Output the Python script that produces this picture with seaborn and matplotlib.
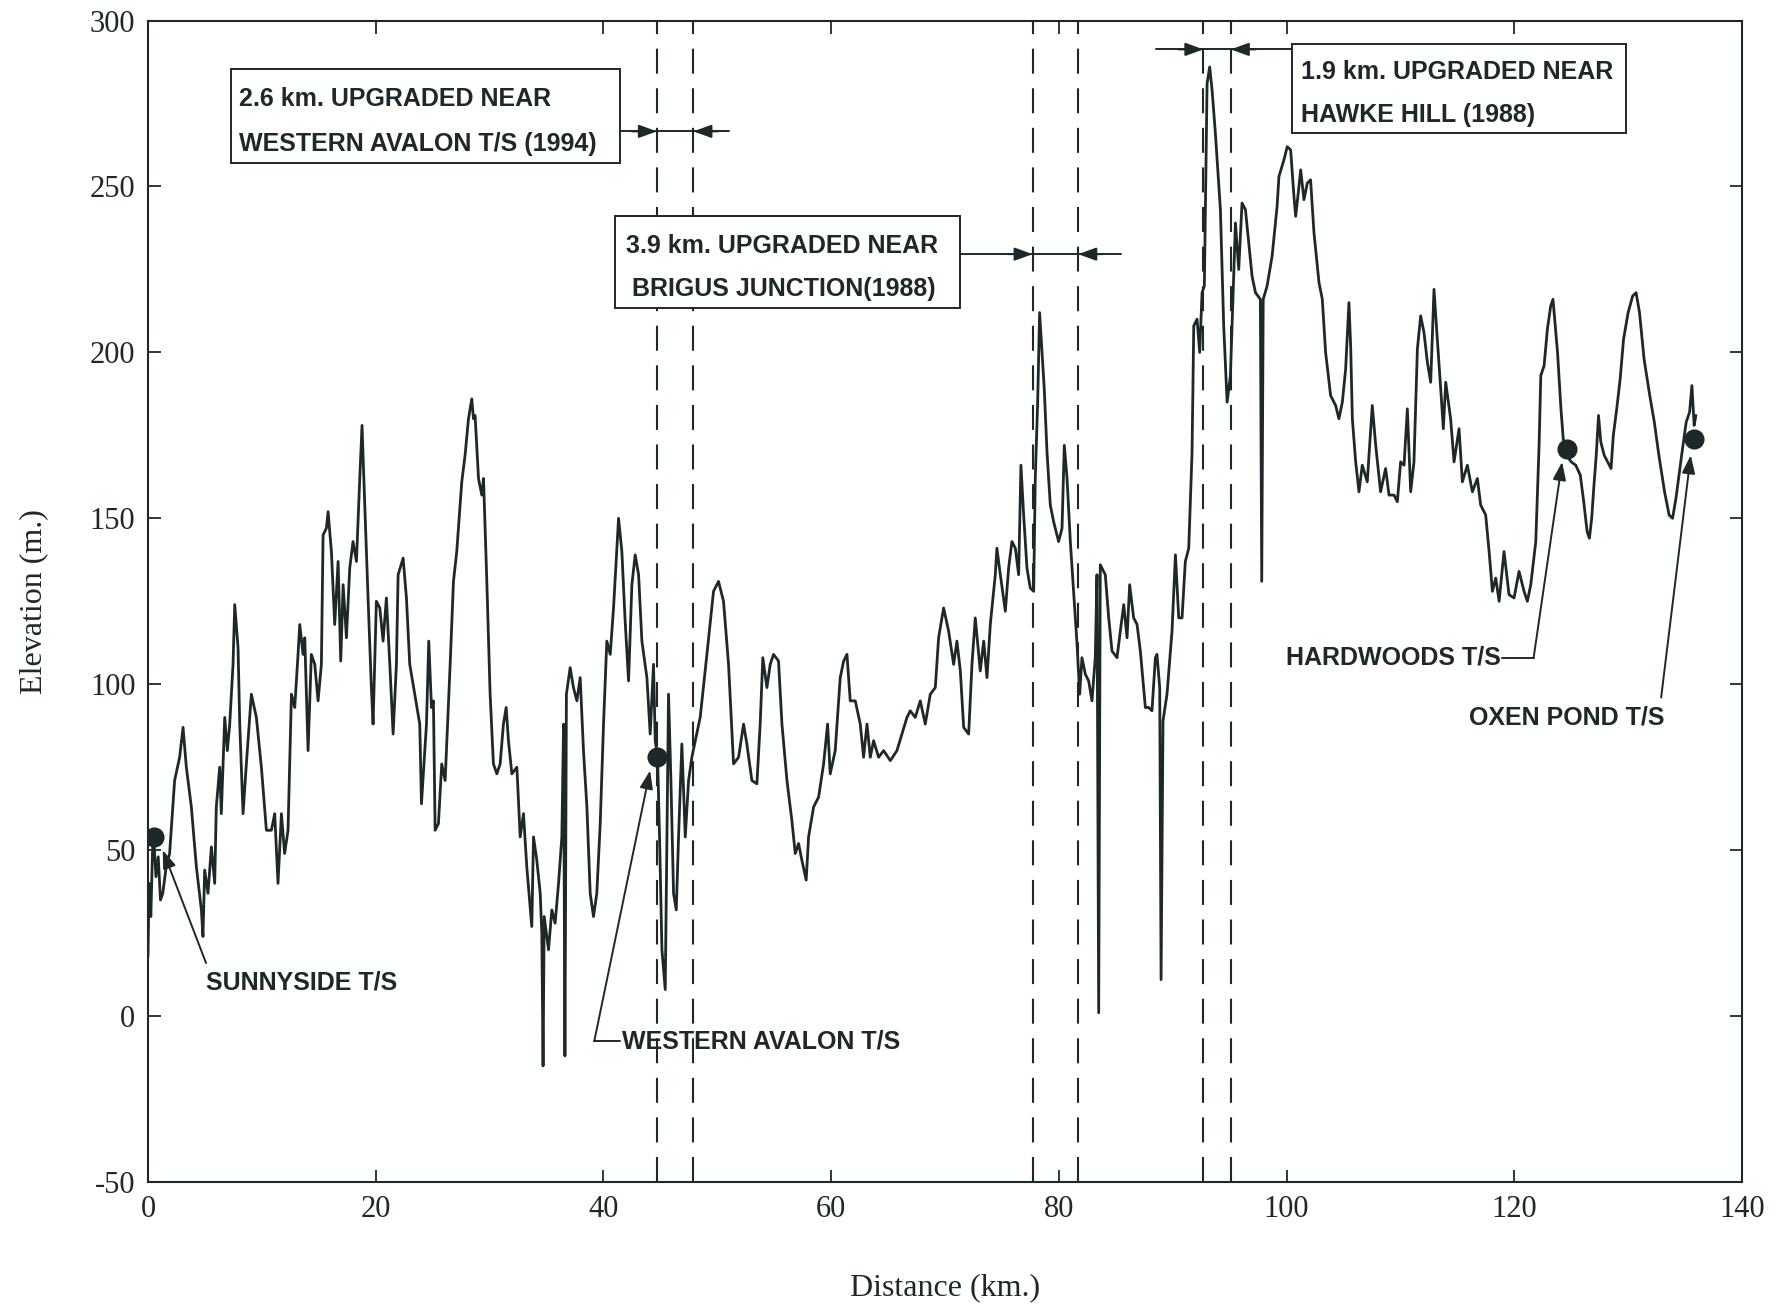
import matplotlib
matplotlib.use('Agg')
import matplotlib.pyplot as plt
import seaborn as sns
import pandas as pd
from matplotlib.patches import Rectangle

# === Elevation profile ===
dist_km = [
    0.0, 0.1, 0.25, 0.4, 0.5, 0.7, 0.9, 1.1, 1.3, 1.6, 1.9, 2.34, 2.78, 3.08, 3.37, 3.81,
    4.25, 4.69, 4.83, 4.98, 5.27, 5.57, 5.86, 6.0, 6.3, 6.44, 6.74, 6.97, 7.18, 7.47, 7.62,
    7.91, 8.06, 8.35, 8.64, 9.08, 9.52, 9.96, 10.4, 10.84, 11.13, 11.42, 11.72, 12.0, 12.3,
    12.6, 12.89, 13.18, 13.33, 13.62, 13.77, 14.06, 14.35, 14.65, 14.94, 15.23, 15.38, 15.67,
    15.82, 16.11, 16.4, 16.7, 16.93, 17.14, 17.43, 17.72, 18.01, 18.31, 18.6, 18.8, 19.04,
    19.33, 19.62, 19.77, 20.06, 20.36, 20.65, 20.94, 21.24, 21.53, 21.82, 21.97, 22.41, 22.7,
    22.99, 23.43, 23.87, 24.02, 24.46, 24.66, 24.9, 25.07,
    25.22, 25.51, 25.8, 26.1, 26.54, 26.83, 27.12, 27.56, 27.85, 28.15, 28.44, 28.59, 28.73,
    29.03, 29.32, 29.47, 29.76, 30.05, 30.34, 30.64, 30.93, 31.22, 31.46, 31.66, 31.96, 32.4,
    32.69, 32.98, 33.27, 33.71, 33.86, 34.15, 34.45, 34.59, 34.7, 34.8, 35.18, 35.47, 35.76,
    36.06, 36.35, 36.5, 36.62, 36.75, 37.08, 37.37, 37.67, 37.96, 38.25, 38.55, 38.84, 39.13,
    39.42, 39.72, 40.01, 40.3, 40.6, 40.89, 41.33, 41.62, 41.91, 42.21, 42.5, 42.79, 43.09,
    43.38, 43.82, 44.11, 44.4, 44.55, 44.76, 44.93, 45.14, 45.43, 45.58, 45.72, 45.93, 46.16,
    46.4, 46.6, 46.89, 47.19, 47.48, 47.77, 48.07,
    48.5, 49.09, 49.67, 50.11, 50.55, 50.99, 51.43, 51.87, 52.31, 52.6, 53.04, 53.48, 53.77,
    54.0, 54.36, 54.65, 54.94, 55.38, 55.68, 56.12, 56.55, 56.85, 57.14, 57.43, 57.81, 58.02,
    58.46, 58.9, 59.34, 59.69, 59.92, 60.36, 60.8, 61.1, 61.39, 61.68, 62.12, 62.56, 62.85,
    63.15, 63.44, 63.73, 64.17, 64.61, 65.2, 65.78, 66.22, 66.66, 66.95, 67.39, 67.83, 68.27,
    68.71, 69.15, 69.44, 69.88, 70.32, 70.76, 71.05, 71.35, 71.64, 72.08, 72.37, 72.66, 73.1,
    73.4, 73.69, 73.98,
    74.42, 74.56, 74.86, 75.3, 75.59, 75.88, 76.18, 76.47, 76.67, 76.91, 77.2, 77.49, 77.79,
    77.93, 78.14, 78.31, 78.52, 78.72, 78.96, 79.25, 79.54, 79.98, 80.28, 80.48, 80.72, 81.01,
    81.3, 81.6, 81.83, 82.03, 82.33, 82.62, 82.91, 83.2, 83.35, 83.5, 83.64, 84.08, 84.38,
    84.67, 85.11, 85.4, 85.7, 85.99, 86.22, 86.57, 86.87, 87.16, 87.6, 87.89, 88.18, 88.48,
    88.62, 88.86, 88.98, 89.15, 89.5, 89.94, 90.24, 90.53, 90.82, 91.11, 91.41, 91.7, 91.85,
    92.14, 92.37, 92.58, 92.78, 93.02, 93.25, 93.46, 93.75, 94.19, 94.48, 94.78, 95.07, 95.36,
    95.51, 95.8, 96.09, 96.39, 96.68, 96.97, 97.27, 97.7, 97.82, 97.95, 98.29, 98.73, 99.17,
    99.33, 99.77, 100.06, 100.36, 100.65, 100.8, 101.09, 101.24, 101.53, 101.82, 102.11,
    102.41, 102.85, 103.14, 103.43, 103.87, 104.31, 104.6, 104.9, 105.19, 105.48, 105.63,
    105.78, 106.07, 106.36, 106.65, 107.09, 107.53, 107.83, 108.26, 108.7, 109.0, 109.44,
    109.73, 110.02, 110.32, 110.61, 110.9, 111.19, 111.49, 111.78, 112.07, 112.37, 112.66,
    112.95, 113.24, 113.54, 113.77, 113.98, 114.41, 114.71, 115.15, 115.44, 115.88, 116.32,
    116.76, 117.05, 117.49, 117.79, 118.08, 118.37, 118.67, 119.1, 119.54, 119.98, 120.42,
    120.86, 121.15, 121.45, 121.89, 122.18, 122.33, 122.62, 122.91, 123.2, 123.4,
    123.8, 124.1, 124.3, 124.6, 125.0, 125.4, 125.8, 126.1, 126.4, 126.6, 126.8, 127.0, 127.2,
    127.4, 127.6, 127.9, 128.2, 128.5, 128.7, 129.0, 129.3, 129.6, 130.0, 130.4, 130.7, 131.0,
    131.4, 131.9, 132.3, 132.7, 133.2, 133.6, 133.9, 134.2, 134.7, 135.1, 135.4, 135.6, 135.8,
    135.95,
]
elev_m = [
    18, 40, 30, 50, 54, 42, 48, 35, 37, 45, 49, 71, 78, 87, 75, 63,
    45, 32, 24, 44, 37, 51, 40, 63, 75, 61, 90, 80, 88, 106, 124,
    111, 88, 61, 76, 97, 90, 75, 56, 56, 61, 40, 61, 49, 56,
    97, 93, 109, 118, 109, 114, 80, 109, 106, 95, 106, 145, 147,
    152, 140, 118, 137, 107, 130, 114, 135, 143, 137, 162, 178, 154,
    126, 99, 88, 125, 123, 113, 126, 106, 85, 106, 133, 138, 126,
    106, 97, 88, 64, 88, 113, 93, 95,
    56, 58, 76, 71, 106, 131, 140, 161, 169, 180, 186, 180, 181,
    162, 157, 162, 131, 97, 76, 73, 76, 88, 93, 83, 73, 75,
    54, 61, 45, 27, 54, 47, 37, 25, -15, 30, 20, 32, 28,
    40, 54, 88, -12, 97, 105, 99, 95, 102, 80, 63, 37, 30,
    37, 58, 88, 113, 109, 123, 150, 140, 119, 101, 130, 139, 133,
    113, 102, 85, 106, 83, 78, 54, 20, 8, 54, 97, 71, 37,
    32, 54, 82, 54, 71, 78, 83,
    90, 109, 128, 131, 125, 106, 76, 78, 88, 82, 71, 70, 88,
    108, 99, 106, 109, 107, 88, 71, 59, 49, 52, 47, 41, 54,
    63, 66, 76, 88, 73, 80, 102, 107, 109, 95, 95, 88, 78,
    88, 78, 83, 78, 80, 77, 80, 85, 90, 92, 90, 95, 88,
    97, 99, 114, 123, 116, 106, 113, 104, 87, 85, 106, 120, 104,
    113, 102, 118,
    133, 141, 133, 122, 135, 143, 141, 133, 166, 151, 135, 129, 128,
    162, 185, 212, 200, 189, 170, 154, 149, 143, 147, 172, 162, 143,
    128, 112, 97, 108, 103, 101, 95, 108, 133, 1, 136, 133, 120,
    110, 108, 116, 124, 114, 130, 120, 118, 110, 93, 93, 92, 108,
    109, 99, 11, 89, 97, 116, 139, 120, 120, 137, 141, 170, 208,
    210, 200, 218, 220, 281, 286, 279, 266, 243, 208, 185, 193, 223,
    239, 225, 245, 243, 233, 223, 218, 216, 131, 216, 220, 229, 244,
    253, 258, 262, 261, 247, 241, 250, 255, 246, 251, 252,
    236, 221, 216, 200, 187, 184, 180, 185, 195, 215, 202,
    180, 167, 158, 166, 161, 184, 172, 158, 165, 157, 157,
    155, 167, 166, 183, 158, 167, 201, 211, 206, 197, 191,
    219, 204, 189, 177, 191, 180, 167, 177, 161, 166, 158,
    162, 154, 151, 140, 128, 132, 125, 140, 127, 126, 134,
    128, 125, 130, 143, 172, 193, 196, 207, 214, 216,
    200, 183, 174, 169, 167, 166, 163, 155, 146, 144, 150, 160, 169,
    181, 173, 169, 167, 165, 175, 183, 192, 204, 212, 217, 218, 212,
    198, 187, 179, 169, 158, 151, 150, 156, 169, 179, 182, 190, 178,
    181,
]

# === Terminal stations ===
station_names = ['SUNNYSIDE T/S', 'WESTERN AVALON T/S', 'HARDWOODS T/S', 'OXEN POND T/S']
station_km = [0.5, 44.7, 124.6, 135.8]
station_elev = [54, 78, 171, 174]

# === Upgraded sections ===
upgrade_start = [44.7, 77.7, 92.7]
upgrade_end = [47.9, 81.7, 95.1]
upgrade_line1 = ['2.6 km. UPGRADED NEAR', '3.9 km. UPGRADED NEAR', '1.9 km. UPGRADED NEAR']
upgrade_line2 = ['WESTERN AVALON T/S (1994)', 'BRIGUS JUNCTION(1988)', 'HAWKE HILL (1988)']

x_ticks = [0, 20, 40, 60, 80, 100, 120, 140]
y_ticks = [-50, 0, 50, 100, 150, 200, 250, 300]

perfil = pd.DataFrame({'km': dist_km, 'elev': elev_m})

sns.set_style('ticks')
plt.rcParams['font.family'] = ['Liberation Serif', 'DejaVu Serif']
plt.rcParams['axes.unicode_minus'] = False

ink = '#1f2828'
label_font = dict(family=['Liberation Sans', 'DejaVu Sans'], weight='bold', size=18, color=ink)
arrow_kw = dict(arrowstyle='-|>,head_length=0.55,head_width=0.2', color=ink, lw=1.4,
                shrinkA=0, shrinkB=0, mutation_scale=20)

fig = plt.figure(figsize=(17.85, 13.07), dpi=100)
ax = fig.add_axes([0.0829, 0.0956, 0.893, 0.8887])

# === Dashed limits of each upgraded section ===
for a, b in zip(upgrade_start, upgrade_end):
    for xv in (a, b):
        ax.axvline(xv, color=ink, lw=1.5, dashes=(12, 7), zorder=1)

# === Profile ===
sns.lineplot(data=perfil, x='km', y='elev', sort=False, estimator=None,
             color=ink, lw=2.0, ax=ax, zorder=2)
sns.scatterplot(x=station_km, y=station_elev, s=180, color=ink, edgecolor=ink,
                ax=ax, zorder=5, legend=False)

# === Station labels with leader arrows ===
ax.text(5.1, 10, station_names[0], ha='left', va='center', zorder=6, **label_font)
ax.annotate('', xy=(1.3, 50), xytext=(5.1, 16), arrowprops=arrow_kw, zorder=6)

ax.text(41.6, -7.5, station_names[1], ha='left', va='center', zorder=6, **label_font)
ax.plot([39.2, 41.5], [-7.5, -7.5], color=ink, lw=1.4, zorder=6)
ax.annotate('', xy=(44.1, 74), xytext=(39.2, -7.5), arrowprops=arrow_kw, zorder=6)

ax.text(118.8, 108, station_names[2], ha='right', va='center', zorder=6, **label_font)
ax.plot([118.9, 121.7], [108, 108], color=ink, lw=1.4, zorder=6)
ax.annotate('', xy=(124.2, 167), xytext=(121.7, 108), arrowprops=arrow_kw, zorder=6)

ax.text(116.0, 90, station_names[3], ha='left', va='center', zorder=6, **label_font)
ax.annotate('', xy=(135.5, 169), xytext=(132.9, 96), arrowprops=arrow_kw, zorder=6)

# === Boxes describing the upgraded sections ===
boxes = [(7.3, 257, 34.2, 28.5, 8.0, 8.0), (41.0, 213.5, 30.3, 27.5, 42.0, 42.5),
         (100.5, 266, 29.3, 27.0, 101.3, 101.3)]
for (bx, by, bw, bh, t1, t2), l1, l2 in zip(boxes, upgrade_line1, upgrade_line2):
    ax.add_patch(Rectangle((bx, by), bw, bh, facecolor='white', edgecolor=ink, lw=1.4, zorder=4))
    ax.text(t1, by + bh * 0.68, l1, ha='left', va='center', zorder=6, **label_font)
    ax.text(t2, by + bh * 0.20, l2, ha='left', va='center', zorder=6, **label_font)

arrow_rows = [(41.5, 51.0, 266.6), (71.3, 85.5, 229.6), (88.5, 100.5, 291.3)]
for (x0, x1, yv), a, b in zip(arrow_rows, upgrade_start, upgrade_end):
    ax.plot([x0, x1], [yv, yv], color=ink, lw=1.4, zorder=3)
    ax.annotate('', xy=(a, yv), xytext=(a - 2.2, yv), arrowprops=arrow_kw, zorder=3)
    ax.annotate('', xy=(b, yv), xytext=(b + 2.2, yv), arrowprops=arrow_kw, zorder=3)

# === Axes ===
ax.set_xlim(0, 140)
ax.set_ylim(-50, 300)
ax.set_xticks(x_ticks)
ax.set_yticks(y_ticks)
ax.tick_params(direction='in', length=9, width=1.3, top=True, right=True,
               labelsize=22, pad=9, colors=ink)
for s in ax.spines.values():
    s.set_linewidth(1.5)
    s.set_color(ink)
ax.set_xlabel('Distance (km.)', fontsize=23, labelpad=36, color=ink)
ax.set_ylabel('Elevation (m.)', fontsize=23, labelpad=30, color=ink)

plt.savefig('out.png', dpi=100, facecolor='white')
